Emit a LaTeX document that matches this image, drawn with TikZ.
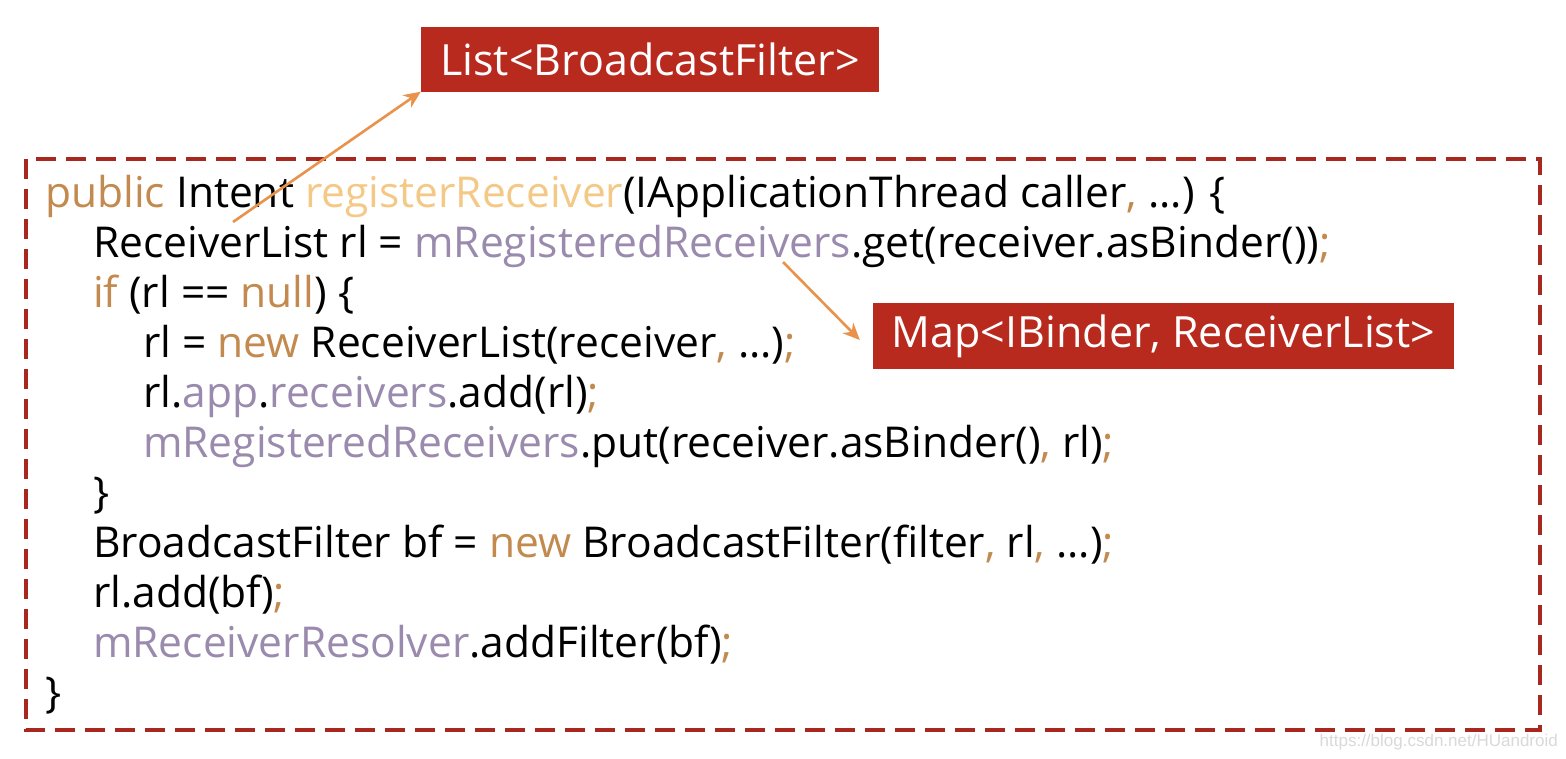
\documentclass[tikz,border=0pt]{standalone}
\usepackage{fontspec}
\setmainfont{Open Sans}
\newfontfamily\wmfont{Liberation Sans}
\usetikzlibrary{arrows.meta}
\definecolor{boxred}{HTML}{B8291E}
\definecolor{frame}{HTML}{A8281F}
\definecolor{arrowc}{HTML}{E8924C}
\definecolor{kwc}{HTML}{C38A4F}
\definecolor{fnc}{HTML}{F4C986}
\definecolor{fdc}{HTML}{9A8AAD}
\newcommand{\kw}[1]{\textcolor{kwc}{#1}}
\newcommand{\fn}[1]{\textcolor{fnc}{#1}}
\newcommand{\fd}[1]{\textcolor{fdc}{#1}}
\newcommand{\pu}[1]{\textcolor{kwc}{#1}}
\tikzset{
  code/.style={anchor=base west, inner sep=0pt, font=\fontsize{42.5}{50}\selectfont, text=black},
  label/.style={fill=boxred, text=white, inner sep=0pt, font=\fontsize{43}{50}\selectfont},
  pointer/.style={draw=arrowc, line width=2.6pt, -{Stealth[length=17pt,width=15pt]}},
}
\begin{document}
\begin{tikzpicture}[x=1pt,y=-1pt]
\useasboundingbox (0,0) rectangle (1566,758);
\fill[white] (0,0) rectangle (1566,758);
\draw[frame, line width=4pt, dash pattern=on 20pt off 10pt] (26,159) rectangle (1540,730);
\node[code] (l1) at (45,207) {\kw{public} Intent \fn{registerReceiver}(IApplicationThread caller\pu{,} ...) \{};
\node[code] (l2) at (93,257) {ReceiverList rl = \fd{mRegisteredReceivers}.get(receiver.asBinder())\pu{;}};
\node[code] (l3) at (93,307) {\kw{if} (rl == \kw{null}) \{};
\node[code] (l4) at (143,357) {rl = \kw{new} ReceiverList(receiver\pu{,} ...)\pu{;}};
\node[code] (l5) at (143,407) {rl.\fd{app}.\fd{receivers}.add(rl)\pu{;}};
\node[code] (l6) at (143,457) {\fd{mRegisteredReceivers}.put(receiver.asBinder()\pu{,} rl)\pu{;}};
\node[code] (l7) at (93,507) {\}};
\node[code] (l8) at (93,557) {BroadcastFilter bf = \kw{new} BroadcastFilter(filter\pu{,} rl\pu{,} ...)\pu{;}};
\node[code] (l9) at (93,607) {rl.add(bf)\pu{;}};
\node[code] (l10) at (93,657) {\fd{mReceiverResolver}.addFilter(bf)\pu{;}};
\node[code] (l11) at (45,707) {\}};
\node[label, minimum width=458pt, minimum height=65pt] (list) at (650,59) {List<BroadcastFilter>};
\node[label, minimum width=581pt, minimum height=66pt] (map) at (1163.5,336) {Map<IBinder, ReceiverList>};
\coordinate (s1) at (233,222);
\coordinate (s2) at (783,262);
\draw[pointer] (s1) -- (list.south west);
\draw[pointer] (s2) -- ([xshift=-13pt,yshift=-4pt]map.west);
\node[anchor=base east, inner sep=0pt, text=black!15, font=\wmfont\fontsize{17}{20}\selectfont] (wm) at (1558,746) {https://blog.csdn.net/HUandroid};
\end{tikzpicture}
\end{document}
